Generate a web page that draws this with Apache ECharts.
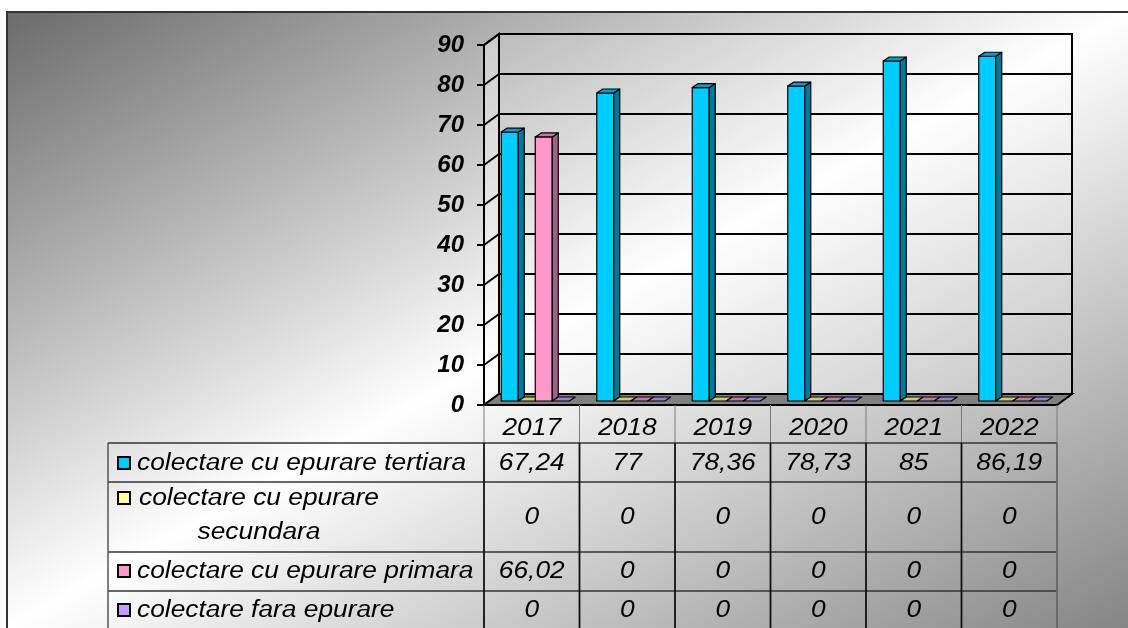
<!DOCTYPE html>
<html>
<head>
<meta charset="UTF-8">
<title>Colectare ape uzate</title>
<script src="https://cdn.jsdelivr.net/npm/echarts@6/dist/echarts.min.js"></script>
<style>
    html, body { margin: 0; padding: 0; background: #fff; }
    #chart { width: 1128px; height: 628px; }
</style>
</head>
<body>
<div id="chart"></div>
<script>
    // date
    var years = ['2017', '2018', '2019', '2020', '2021', '2022'];
    var tertiara = [67.24, 77, 78.36, 78.73, 85, 86.19];
    var secundara = [0, 0, 0, 0, 0, 0];
    var primara = [66.02, 0, 0, 0, 0, 0];
    var faraEpurare = [0, 0, 0, 0, 0, 0];
    var seriesNames = ['colectare cu epurare tertiara', 'colectare cu epurare\nsecundara',
        'colectare cu epurare primara', 'colectare fara epurare'];
    var seriesValues = [tertiara, secundara, primara, faraEpurare];

    var palette = [
        {front: '#00ccff', top: '#009fcc', side: '#007a9c'},
        {front: '#ffff99', top: '#cccc72', side: '#99995a'},
        {front: '#ff99cc', top: '#cc73a0', side: '#9e6384'},
        {front: '#cc99ff', top: '#a278d8', side: '#7d5ca3'}
    ];
    var FONT = '"Liberation Sans", Arial, sans-serif';
    var DEPTH = [15, -11];   // adancimea peretilor

    var myChart = echarts.init(document.getElementById('chart'));

    function poly(points, fill) {
        return {type: 'polygon', shape: {points: points},
            style: {fill: fill, stroke: '#000', lineWidth: 1.2, lineJoin: 'round'}};
    }

    // peretii, liniile de grila si podeaua
    function renderFrame(params, api) {
        var band = api.size([1, 0])[0];
        var xl = api.coord([0, 0])[0] - band / 2;
        var xr = api.coord([years.length - 1, 0])[0] + band / 2;
        var y0 = api.coord([0, 0])[1];
        var yTop = api.coord([0, 90])[1];
        var dx = DEPTH[0], dy = DEPTH[1];
        var line = {stroke: '#000', lineWidth: 2};
        var ch = [];
        ch.push({type: 'rect', shape: {x: xl + dx, y: yTop + dy, width: xr - xl, height: y0 - yTop},
            style: {fill: 'rgba(255,255,255,0.15)', stroke: '#000', lineWidth: 2}});
        ch.push({type: 'polygon', shape: {points: [[xl, y0], [xl + dx, y0 + dy], [xl + dx, yTop + dy], [xl, yTop]]},
            style: {fill: 'rgba(255,255,255,0.35)', stroke: '#000', lineWidth: 2}});
        for (var v = 10; v <= 90; v += 10) {
            var y = api.coord([0, v])[1];
            ch.push({type: 'line', shape: {x1: xl + dx, y1: y + dy, x2: xr + dx, y2: y + dy}, style: line});
            ch.push({type: 'line', shape: {x1: xl, y1: y, x2: xl + dx, y2: y + dy}, style: line});
        }
        ch.push({type: 'polygon', shape: {points: [[xl, y0], [xr, y0], [xr + dx, y0 + dy], [xl + dx, y0 + dy]]},
            style: {fill: '#808080', stroke: '#000', lineWidth: 2}});
        return {type: 'group', children: ch};
    }

    function barRenderer(idx) {
        return function (params, api) {
            var cat = api.value(0);
            var base = api.coord([cat, 0]);
            var top = api.coord([cat, api.value(1)]);
            var band = api.size([1, 0])[0];
            var w = band * 0.178;
            var x0 = base[0] - 2 * w + idx * w + 3.5;
            var x1 = x0 + w;
            var yb = base[1] - 4, yt = top[1] - 4;
            var dx = 6, dy = -4;
            var c = palette[idx];
            var ch = [];
            if (yb - yt > 0.5) {
                ch.push(poly([[x0, yb], [x1, yb], [x1, yt], [x0, yt]], c.front));
                ch.push(poly([[x1, yb], [x1 + dx, yb + dy], [x1 + dx, yt + dy], [x1, yt]], c.side));
            }
            ch.push(poly([[x0, yt], [x1, yt], [x1 + dx, yt + dy], [x0 + dx, yt + dy]], c.top));
            return {type: 'group', children: ch};
        };
    }

    var series = [{
        type: 'custom', name: 'cadru', clip: false, z: 1, silent: true,
        renderItem: renderFrame, data: [[0, 0]]
    }];
    seriesValues.forEach(function (vals, i) {
        series.push({
            type: 'custom', name: seriesNames[i], clip: false, z: 3,
            renderItem: barRenderer(i),
            data: vals.map(function (v, k) { return [k, v]; })
        });
    });

    var option = {
        animation: false,
        grid: {left: 484, right: 71, top: 45, bottom: 223},
        xAxis: {
            type: 'category', data: years,
            axisLine: {show: false}, axisTick: {show: false}, axisLabel: {show: false}
        },
        yAxis: {
            type: 'value', min: 0, max: 90, interval: 10,
            axisLine: {show: true, lineStyle: {color: '#000', width: 2}},
            axisTick: {show: true, length: 7, lineStyle: {color: '#000', width: 2}},
            axisLabel: {color: '#000', fontSize: 24, fontWeight: 'bold', fontStyle: 'italic',
                fontFamily: FONT, margin: 20},
            splitLine: {show: false}
        },
        series: series
    };
    myChart.setOption(option);

    // fundal + tabelul de date, aliniat pe coloanele axei
    var cx = years.map(function (y, i) { return myChart.convertToPixel({xAxisIndex: 0}, i); });
    var band = cx[1] - cx[0];
    var xl = cx[0] - band / 2, xr = cx[cx.length - 1] + band / 2;
    var y0 = myChart.convertToPixel({yAxisIndex: 0}, 0);
    var labelLeft = 108;
    var rows = [443, 482, 552, 591, 650];
    var rowText = [[463], [498, 532], [571], [610]];
    var valueY = [463, 517, 571, 610];

    var g = [];
    g.push({type: 'rect', z: -10, shape: {x: 7, y: 12, width: 1140, height: 640},
        style: {
            fill: new echarts.graphic.LinearGradient(307, -153, 827, 793, [
                {offset: 0, color: '#6b6b6b'},
                {offset: 0.5, color: '#ffffff'},
                {offset: 1, color: '#858585'}
            ], true),
            stroke: '#333', lineWidth: 2
        }});

    function ln(x1, y1, x2, y2, color, w) {
        return {type: 'line', z: 5, shape: {x1: x1, y1: y1, x2: x2, y2: y2},
            style: {stroke: color, lineWidth: w}};
    }
    function txt(x, y, s, align) {
        return {type: 'text', z: 6, x: x, y: y, scaleX: 1.12,
            style: {text: s, x: 0, y: 0, fill: '#000', fontSize: 23.5, fontStyle: 'italic',
                fontFamily: FONT, textAlign: align || 'center', textVerticalAlign: 'middle', lineHeight: 34}};
    }

    // rand antet (anii)
    for (var k = 0; k <= years.length; k++) {
        g.push(ln(xl + k * band, y0, xl + k * band, rows[0], '#7a7a7a', 1));
    }
    years.forEach(function (y, i) { g.push(txt(cx[i], 428, y)); });

    // randuri de date
    rows.slice(0, 4).forEach(function (ry) { g.push(ln(labelLeft, ry, xr, ry, '#333', 1.5)); });
    g.push(ln(labelLeft, rows[0], labelLeft, 640, '#555', 1.5));
    for (var k2 = 0; k2 <= years.length; k2++) {
        g.push(ln(xl + k2 * band, rows[0], xl + k2 * band, 640, k2 === years.length ? '#666' : '#111', 1.8));
    }
    seriesValues.forEach(function (vals, i) {
        var ty = rowText[i][0];
        g.push({type: 'rect', z: 6, shape: {x: 118, y: ty - 6, width: 12, height: 12},
            style: {fill: palette[i].front, stroke: '#000', lineWidth: 2}});
        if (i === 1) {
            g.push(txt(259, (rowText[i][0] + rowText[i][1]) / 2, seriesNames[i], 'center'));
        } else {
            g.push(txt(137, ty, seriesNames[i], 'left'));
        }
        vals.forEach(function (v, k) {
            g.push(txt(cx[k], valueY[i], String(v).replace('.', ',')));
        });
    });

    myChart.setOption({graphic: g});
</script>
</body>
</html>
